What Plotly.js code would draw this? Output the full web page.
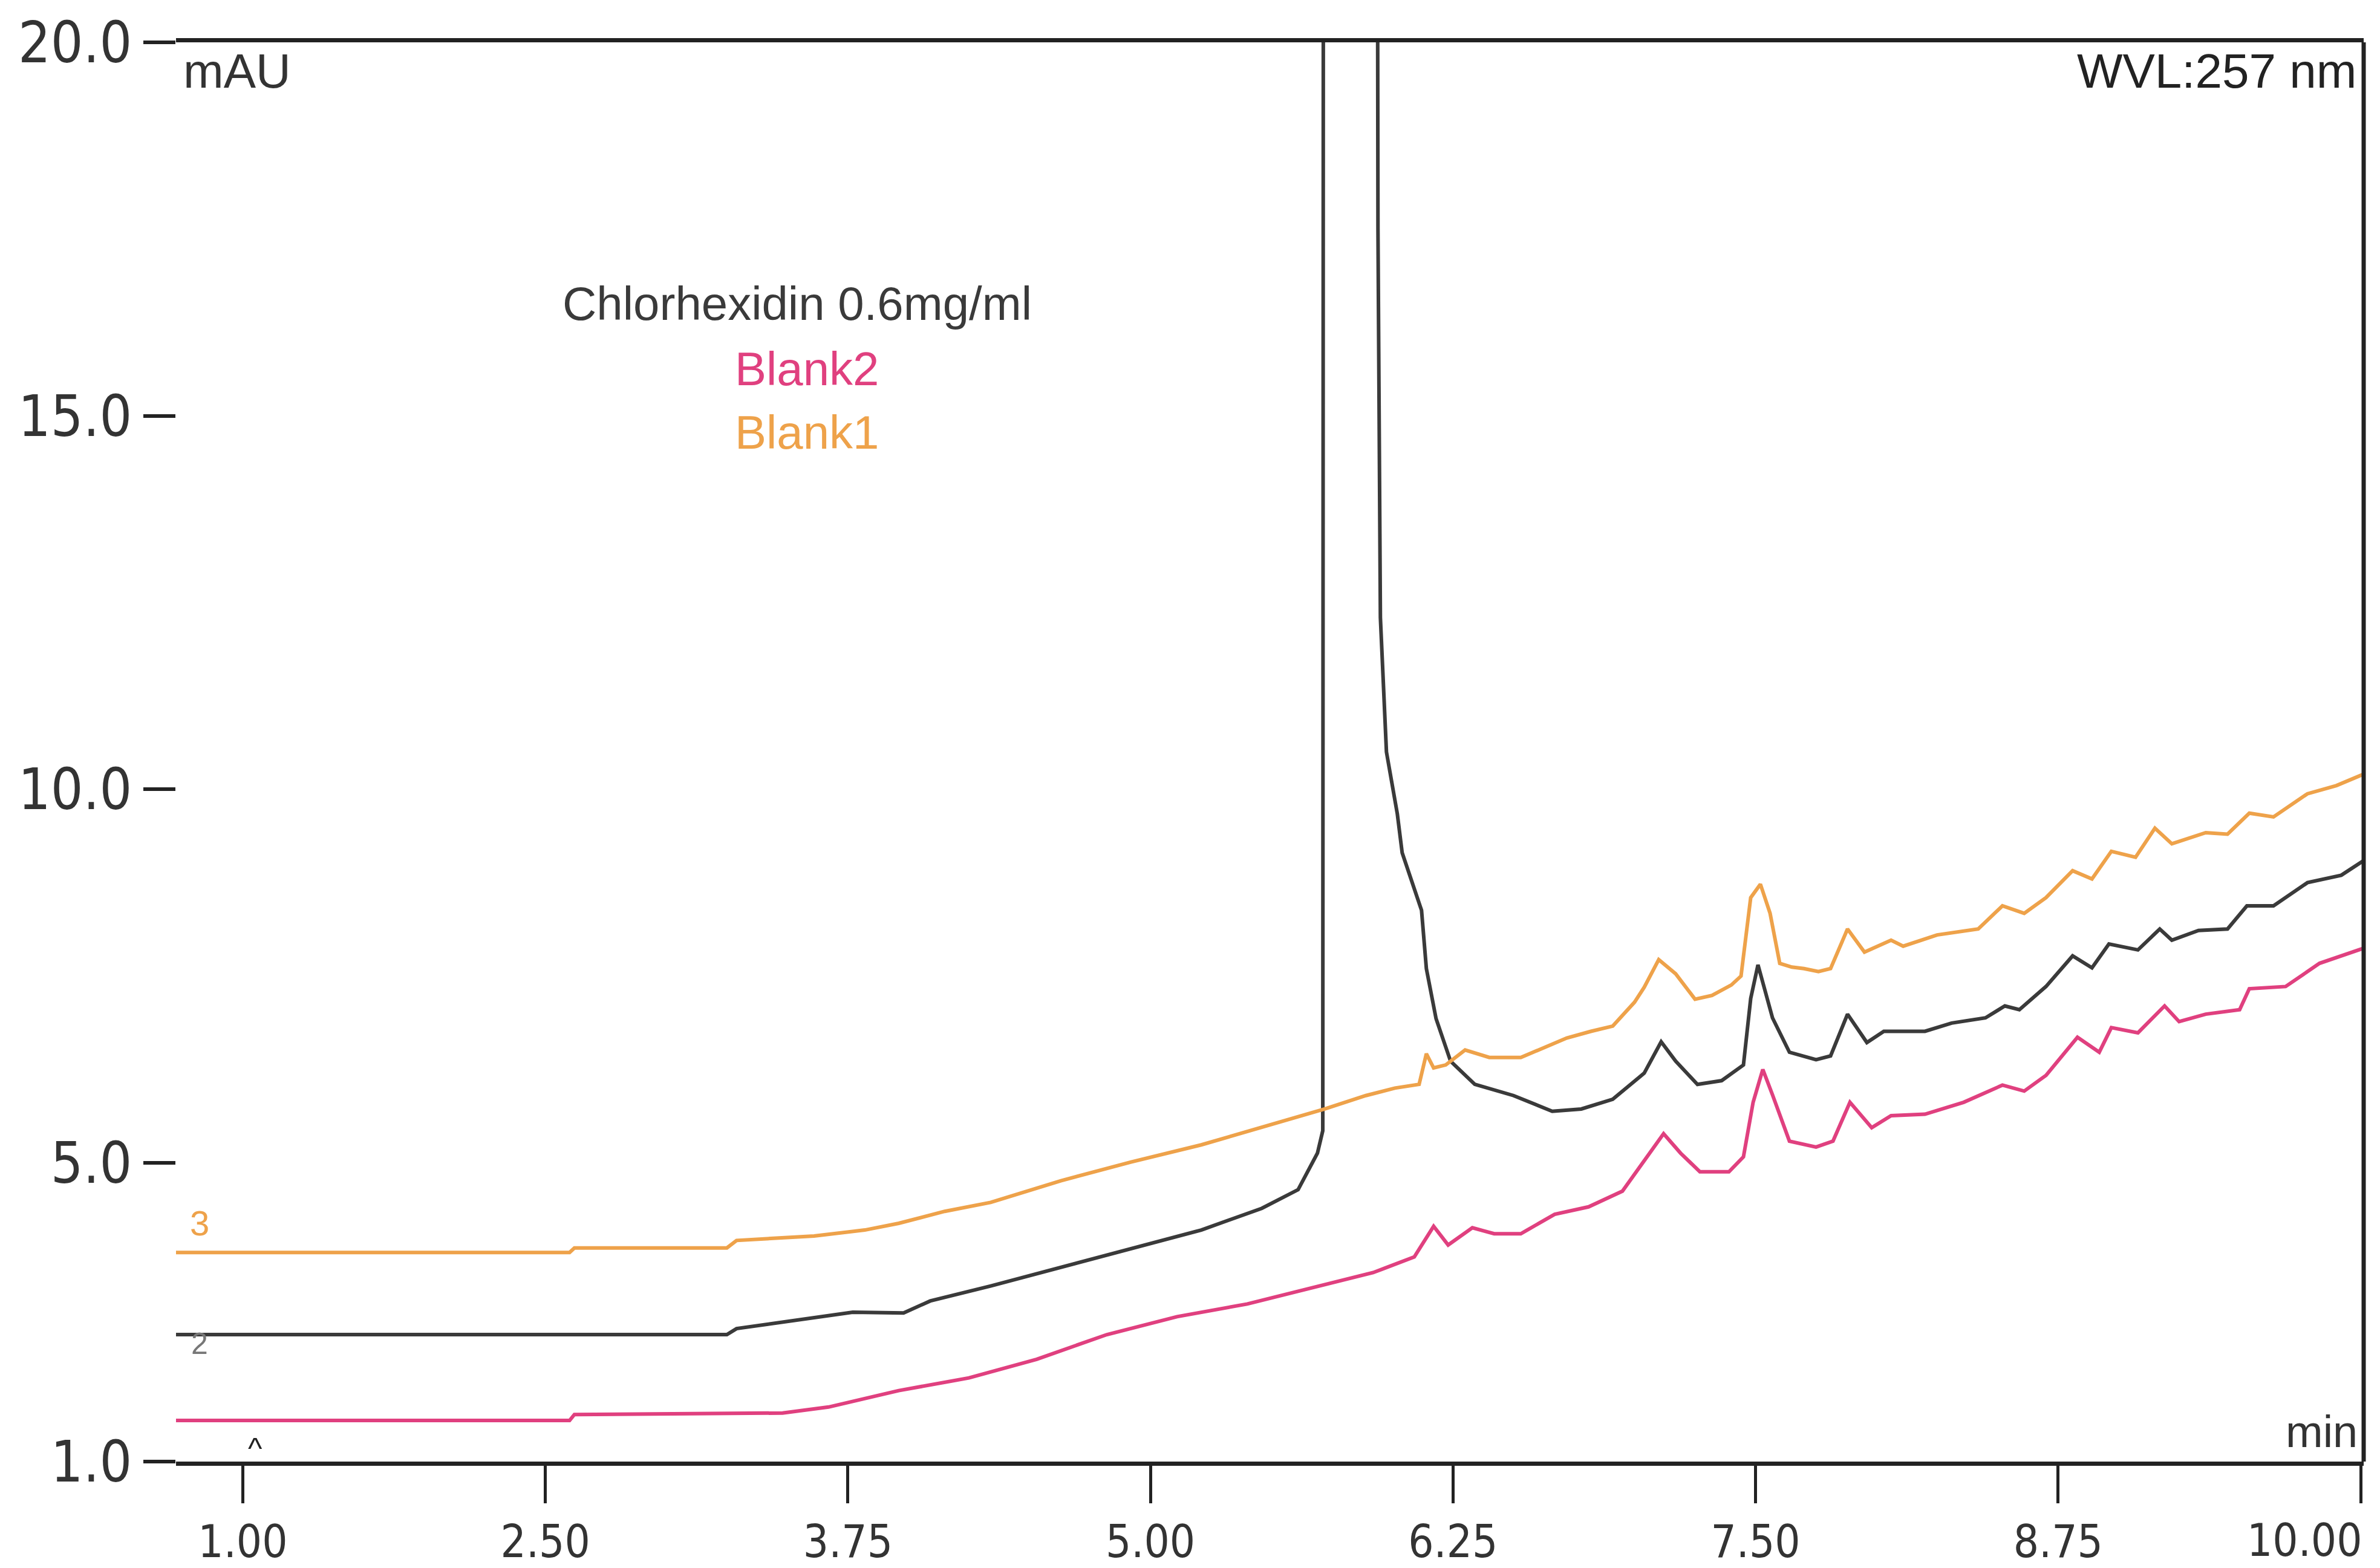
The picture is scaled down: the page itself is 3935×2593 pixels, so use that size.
<!DOCTYPE html>
<html>
<head>
<meta charset="utf-8">
<script src="https://cdn.plot.ly/plotly-3.0.1.min.js"></script>
<style>html,body{margin:0;padding:0;background:#fff;}#chart{width:3935px;height:2593px;}</style>
</head>
<body>
<div id="chart"></div>
<script>
// ---- data (time in min, absorbance in mAU) ----
const timeBlank1 = [0.974, 2.60, 2.62, 3.25, 3.29, 3.61, 3.82, 3.96, 4.15, 4.34, 4.63, 4.92, 5.21, 5.49, 5.72, 5.89, 6.01, 6.11, 6.14, 6.17, 6.22, 6.30, 6.40, 6.53, 6.62, 6.72, 6.82, 6.91, 7.00, 7.04, 7.10, 7.17, 7.25, 7.32, 7.40, 7.44, 7.48, 7.52, 7.56, 7.60, 7.65, 7.70, 7.76, 7.81, 7.88, 7.95, 8.06, 8.11, 8.25, 8.42, 8.52, 8.61, 8.70, 8.81, 8.89, 8.97, 9.07, 9.15, 9.22, 9.36, 9.45, 9.54, 9.64, 9.78, 9.90, 10.01];
const absBlank1  = [3.80, 3.80, 3.86, 3.86, 3.96, 4.02, 4.10, 4.19, 4.35, 4.47, 4.76, 5.01, 5.24, 5.51, 5.72, 5.90, 6.00, 6.05, 6.46, 6.27, 6.31, 6.51, 6.41, 6.41, 6.53, 6.67, 6.76, 6.83, 7.15, 7.35, 7.72, 7.53, 7.19, 7.24, 7.38, 7.50, 8.55, 8.73, 8.34, 7.67, 7.62, 7.60, 7.56, 7.60, 8.13, 7.82, 7.98, 7.90, 8.05, 8.13, 8.44, 8.34, 8.55, 8.91, 8.80, 9.17, 9.09, 9.48, 9.27, 9.42, 9.40, 9.68, 9.63, 9.94, 10.05, 10.20];

const timeBlank2 = [0.974, 2.60, 2.62, 3.48, 3.67, 3.96, 4.25, 4.53, 4.82, 5.11, 5.40, 5.69, 5.92, 6.09, 6.17, 6.23, 6.33, 6.42, 6.53, 6.67, 6.81, 6.95, 7.03, 7.12, 7.19, 7.27, 7.39, 7.45, 7.49, 7.53, 7.57, 7.64, 7.75, 7.82, 7.89, 7.98, 8.06, 8.20, 8.36, 8.52, 8.61, 8.70, 8.83, 8.92, 8.97, 9.08, 9.19, 9.25, 9.36, 9.50, 9.54, 9.69, 9.83, 10.01];
const absBlank2  = [1.55, 1.55, 1.63, 1.65, 1.73, 1.95, 2.12, 2.37, 2.70, 2.94, 3.11, 3.35, 3.53, 3.74, 4.15, 3.90, 4.13, 4.05, 4.05, 4.31, 4.41, 4.62, 4.98, 5.39, 5.13, 4.88, 4.88, 5.08, 5.81, 6.25, 5.91, 5.29, 5.21, 5.29, 5.81, 5.47, 5.63, 5.65, 5.81, 6.04, 5.96, 6.17, 6.68, 6.48, 6.81, 6.74, 7.10, 6.89, 6.99, 7.05, 7.33, 7.36, 7.67, 7.87];

const timeChlorhex = [0.974, 3.25, 3.29, 3.63, 3.77, 3.98, 4.09, 4.34, 4.63, 4.92, 5.21, 5.46, 5.61, 5.69, 5.712, 5.72, 5.82, 5.92, 5.94, 5.95, 5.975, 6.02, 6.04, 6.12, 6.14, 6.18, 6.24, 6.34, 6.50, 6.66, 6.78, 6.91, 7.04, 7.11, 7.17, 7.26, 7.36, 7.45, 7.48, 7.51, 7.57, 7.64, 7.75, 7.81, 7.88, 7.96, 8.03, 8.20, 8.31, 8.45, 8.53, 8.59, 8.70, 8.81, 8.89, 8.96, 9.08, 9.17, 9.22, 9.33, 9.45, 9.53, 9.64, 9.78, 9.92, 10.01];
const absChlorhex  = [2.70, 2.70, 2.78, 2.94, 3.00, 2.99, 3.15, 3.35, 3.60, 3.86, 4.10, 4.39, 4.64, 5.13, 5.43, 60, 250, 60, 17.5, 12.3, 10.5, 9.67, 9.15, 8.38, 7.60, 6.93, 6.36, 6.05, 5.90, 5.69, 5.72, 5.85, 6.20, 6.62, 6.36, 6.05, 6.10, 6.31, 7.20, 7.65, 6.94, 6.48, 6.38, 6.43, 6.99, 6.61, 6.76, 6.76, 6.87, 6.94, 7.10, 7.05, 7.36, 7.77, 7.61, 7.93, 7.85, 8.13, 7.98, 8.11, 8.13, 8.44, 8.44, 8.75, 8.85, 9.04];

const seriesNames = ["Chlorhexidin 0.6mg/ml", "Blank2", "Blank1"];
const xTickVals = [1.25, 2.50, 3.75, 5.00, 6.25, 7.50, 8.75, 10.00];
const xTickText = ["1.00", "2.50", "3.75", "5.00", "6.25", "7.50", "8.75", "10.00"];
const yTickVals = [1, 5, 10, 15, 20];
const yTickText = ["1.0", "5.0", "10.0", "15.0", "20.0"];

// ---- styling ----
const W = 3935, H = 2593;
const M = {l: 291, r: 27, t: 70, b: 176};
const PW = W - M.l - M.r, PH = H - M.t - M.b;
const px = v => (v - M.l) / PW;          // page x -> paper
const py = v => 1 - (v - M.t) / PH;      // page y -> paper
const cBlack = "#3a3a3a", cPink = "#e0407f", cOrange = "#eea24a";
const narrow = "'Liberation Sans Narrow', 'DejaVu Sans Condensed', 'Arial Narrow', sans-serif";
const sans = "'Liberation Sans', Arial, sans-serif";
const xFontSize = 74;

const traces = [
  {x: timeChlorhex, y: absChlorhex, name: seriesNames[0], mode: "lines", line: {color: cBlack, width: 6}},
  {x: timeBlank2, y: absBlank2, name: seriesNames[1], mode: "lines", line: {color: cPink, width: 6}},
  {x: timeBlank1, y: absBlank1, name: seriesNames[2], mode: "lines", line: {color: cOrange, width: 6}}
];

const ann = (text, x, y, size, color, anchor, fam) => ({
  text, x: px(x), y: py(y), xref: "paper", yref: "paper", showarrow: false,
  xanchor: anchor || "center", yanchor: "middle",
  font: {size, color, family: fam || sans}
});

// the last x label sits flush against the right edge (shifted left so it stays on the page)
const nX = xTickText.length;
const shownTickText = xTickText.map((t, i) => i === nX - 1 ? "" : t);
const lastLabel = {
  text: xTickText[nX - 1], x: xTickVals[nX - 1], xref: "x", xanchor: "right", xshift: 4,
  y: py(2503), yref: "paper", yanchor: "top", showarrow: false, borderpad: 0,
  font: {size: xFontSize, color: "#333", family: narrow}
};

const layout = {
  width: W, height: H,
  margin: M,
  paper_bgcolor: "#ffffff", plot_bgcolor: "#ffffff",
  showlegend: false,
  xaxis: {
    range: [0.974, 10.0125], showgrid: false, zeroline: false,
    showline: true, linecolor: "#222", linewidth: 7, mirror: true,
    ticks: "outside", ticklen: 62, tickwidth: 5, tickcolor: "#222",
    tickmode: "array", tickvals: xTickVals, ticktext: shownTickText,
    tickfont: {size: xFontSize, color: "#333", family: narrow}
  },
  yaxis: {
    range: [1, 20], showgrid: false, zeroline: false, showline: false,
    ticks: "outside", ticklen: 53, tickwidth: 6, tickcolor: "#222",
    tickmode: "array", tickvals: yTickVals, ticktext: yTickText,
    tickfont: {size: 94, color: "#333", family: narrow}
  },
  shapes: [
    {type: "line", xref: "paper", yref: "paper", x0: 1, x1: 1, y0: 0, y1: 1, line: {color: "#222", width: 7}}
  ],
  annotations: [
    ann("mAU", 301, 118, 80, "#333", "left"),
    ann("WVL:257 nm", 3898, 118, 80, "#222", "right"),
    ann(seriesNames[0], 1318, 502, 78, "#3a3a3a"),
    ann(seriesNames[1], 1334, 610, 78, cPink),
    ann(seriesNames[2], 1334, 715, 78, cOrange),
    ann("3", 330, 2022, 58, cOrange),
    ann("2", 330, 2222, 50, "#777"),
    ann("^", 422, 2395, 50, "#222"),
    ann("min", 3900, 2367, 74, "#333", "right"),
    lastLabel
  ]
};

Plotly.newPlot("chart", traces, layout, {displayModeBar: false, staticPlot: true});
</script>
</body>
</html>
